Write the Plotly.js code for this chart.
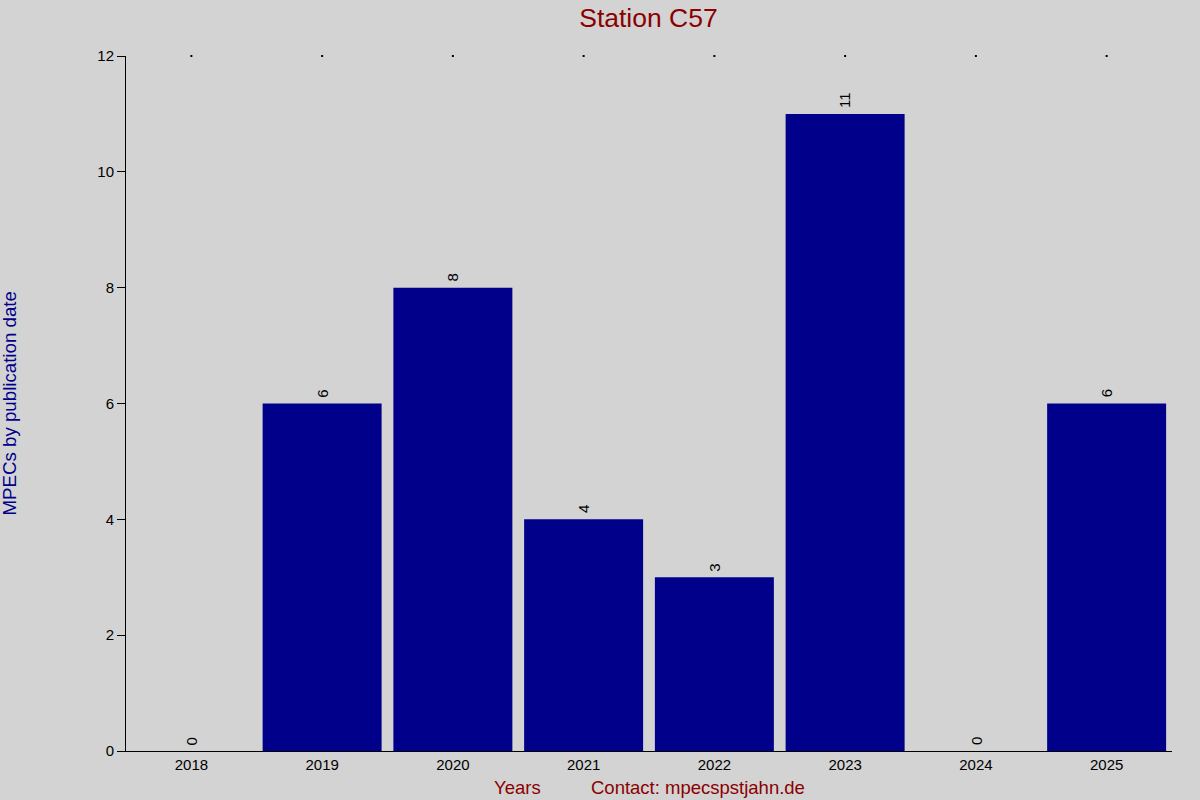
<!DOCTYPE html>
<html>
<head>
<meta charset="utf-8">
<script src="https://cdn.plot.ly/plotly-3.0.1.min.js"></script>
<style>html,body{margin:0;padding:0;background:#d3d3d3;}#chart{width:1200px;height:800px;}</style>
</head>
<body>
<div id="chart"></div>
<script>
const years = ["2018","2019","2020","2021","2022","2023","2024","2025"];
const counts = [0, 6, 8, 4, 3, 11, 0, 6];
const yTicks = [0, 2, 4, 6, 8, 10, 12];
const titleText = "Station C57";
const yTitle = "MPECs by publication date";
const xTitle = "Years";
const contactText = "Contact: mpecspstjahn.de";

const FONT = "Liberation Sans, Arial, sans-serif";

const bars = {
  type: "bar",
  x: years,
  y: counts,
  marker: {color: "#00008b"},
  hoverinfo: "none"
};
const topDots = {
  type: "scatter",
  mode: "markers",
  x: years,
  y: years.map(() => yTicks[yTicks.length - 1]),
  marker: {symbol: "square", size: 2, color: "#000"},
  cliponaxis: false,
  hoverinfo: "none"
};

const valueLabels = years.map((yr, i) => ({
  x: i, y: counts[i], xref: "x", yref: "y",
  text: String(counts[i]), textangle: -90,
  xanchor: "center", yanchor: "bottom", yshift: 4,
  showarrow: false, font: {family: FONT, size: 15, color: "#000"}
}));

const layout = {
  width: 1200, height: 800,
  paper_bgcolor: "#d3d3d3",
  plot_bgcolor: "#d3d3d3",
  showlegend: false,
  bargap: 0.09,
  margin: {l: 126, r: 28, t: 56, b: 49},
  font: {family: FONT, size: 15, color: "#000"},
  title: {text: titleText, x: 0.5404, xanchor: "center", y: 0.978, yanchor: "middle",
          font: {size: 26.5, color: "#8b0000"}},
  xaxis: {
    type: "category",
    range: [-0.5, 7.5],
    showline: true, linecolor: "#000", linewidth: 1,
    ticks: "", showgrid: false, zeroline: false,
    tickfont: {size: 15, color: "#000"}
  },
  yaxis: {
    range: [0, 12],
    tickvals: yTicks,
    ticks: "outside", ticklen: 8, tickcolor: "#000", tickwidth: 1,
    showline: true, linecolor: "#000", linewidth: 1,
    showgrid: false, zeroline: false,
    tickfont: {size: 15, color: "#000"}
  },
  annotations: valueLabels.concat([
    {text: yTitle, xref: "paper", yref: "paper", x: -0.1109, y: 0.5, xanchor: "center", yanchor: "middle",
     textangle: -90, showarrow: false, font: {size: 18.7, color: "#00008b"}},
    {text: xTitle, xref: "paper", yref: "paper", x: 0.374, y: -0.052, xanchor: "center", yanchor: "middle",
     showarrow: false, font: {size: 18.5, color: "#8b0000"}},
    {text: contactText, xref: "paper", yref: "paper", x: 0.5464, y: -0.052, xanchor: "center", yanchor: "middle",
     showarrow: false, font: {size: 18.5, color: "#8b0000"}}
  ])
};

Plotly.newPlot("chart", [bars, topDots], layout, {displayModeBar: false, staticPlot: true});
</script>
</body>
</html>
